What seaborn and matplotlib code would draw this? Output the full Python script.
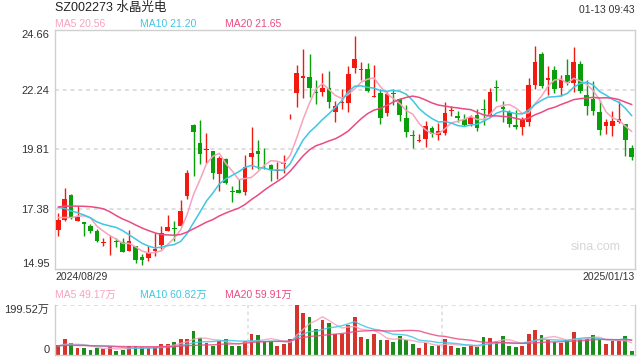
import matplotlib
matplotlib.use("Agg")
import matplotlib.pyplot as plt
import pandas as pd
import seaborn as sns

# --- data (price in CNY, volume in 万股) ---
title = "SZ002273 水晶光电"
stamp = "01-13 09:43"
start_label = "2024/08/29"
end_label = "2025/01/13"

opens = [16.53, 16.93, 17.94, 16.90, 16.84, 16.69, 16.49, 16.00, 16.15, 16.09,
         16.03, 15.70, 15.89, 15.45, 15.39, 15.68, 15.92, 16.49, 16.62, 16.69,
         17.92, 20.82, 20.08, 19.79, 19.76, 18.82, 19.40, 18.11, 18.16, 18.08,
         19.49, 19.76, 19.41, 19.17, 18.95, 19.21, 21.19, 22.12, 22.69, 22.75,
         22.12, 22.16, 22.31, 21.31, 21.68, 21.69, 23.11, 23.05, 23.07, 21.94,
         22.10, 21.29, 22.12, 21.86, 21.09, 20.40, 20.14, 20.24, 20.68, 20.41,
         20.48, 21.38, 21.18, 21.05, 20.86, 21.22, 21.43, 21.22, 22.32, 21.53,
         21.31, 20.82, 20.72, 20.91, 22.43, 23.69, 22.61, 23.04, 22.30, 22.84,
         22.50, 23.28, 22.03, 21.87, 21.31, 20.75, 20.78, 20.91, 20.86, 19.85]
highs = [17.22, 18.26, 17.98, 17.50, 16.85, 16.77, 16.57, 16.19, 16.34, 16.19,
         16.19, 16.54, 15.89, 15.56, 15.87, 16.43, 16.68, 17.13, 16.89, 17.75,
         18.99, 20.85, 21.02, 20.48, 19.76, 19.53, 19.47, 18.32, 18.59, 19.60,
         20.72, 20.21, 19.87, 19.23, 19.29, 19.59, 21.25, 23.24, 23.88, 23.69,
         22.64, 22.93, 22.99, 21.76, 22.26, 23.18, 24.42, 23.38, 23.31, 23.24,
         22.26, 22.16, 22.26, 21.90, 21.62, 20.61, 20.45, 20.95, 20.75, 20.89,
         21.72, 21.59, 21.35, 21.25, 21.22, 21.45, 21.86, 22.30, 22.64, 21.76,
         21.42, 21.42, 21.13, 22.71, 24.01, 23.78, 23.20, 23.20, 22.84, 23.47,
         23.98, 23.41, 22.61, 22.57, 21.80, 21.05, 21.35, 21.76, 20.86, 19.98]
lows = [16.30, 16.90, 16.98, 16.88, 16.30, 16.40, 16.04, 15.87, 15.52, 15.83,
        15.65, 15.70, 15.18, 15.11, 15.26, 15.49, 15.76, 16.49, 16.10, 16.69,
        17.78, 18.72, 19.20, 19.27, 18.62, 18.12, 18.39, 17.67, 18.05, 17.96,
        19.02, 19.00, 19.00, 18.52, 18.59, 18.83, 21.05, 21.53, 21.90, 21.92,
        21.67, 21.96, 21.49, 20.91, 21.45, 21.31, 22.91, 22.64, 22.16, 21.94,
        20.86, 21.15, 21.63, 20.98, 20.32, 19.87, 20.10, 19.91, 20.32, 20.21,
        20.41, 21.15, 20.92, 20.75, 20.75, 20.55, 20.82, 21.18, 21.79, 20.92,
        20.71, 20.65, 20.41, 20.75, 22.26, 22.30, 22.03, 22.10, 21.96, 22.43,
        22.16, 22.10, 21.19, 21.22, 20.41, 20.45, 20.37, 20.88, 19.56, 19.37]
closes = [16.93, 17.78, 17.01, 17.08, 16.76, 16.49, 16.10, 16.02, 16.17, 16.03,
          15.65, 16.07, 15.33, 15.33, 15.61, 15.76, 16.41, 16.65, 16.58, 17.31,
          18.86, 20.50, 19.63, 19.81, 18.86, 19.44, 18.46, 18.09, 18.05, 19.09,
          19.68, 19.61, 19.40, 18.98, 18.97, 19.27, 21.21, 22.91, 22.80, 22.29,
          22.10, 22.31, 21.72, 21.58, 21.70, 22.88, 23.47, 23.07, 22.19, 21.96,
          21.09, 22.06, 22.08, 21.19, 20.52, 20.37, 20.16, 20.78, 20.42, 20.55,
          21.29, 21.40, 21.09, 20.82, 21.13, 20.68, 21.41, 22.14, 22.30, 21.45,
          20.86, 20.71, 21.02, 22.43, 23.34, 22.37, 22.73, 22.27, 22.61, 22.50,
          23.38, 22.19, 21.59, 21.35, 20.61, 20.93, 20.98, 21.05, 20.21, 19.49]
volumes = [39, 63, 46, 29, 29, 20, 29, 23, 33, 17,
           20, 35, 35, 33, 27, 31, 43, 43, 52, 63,
           63, 94, 69, 46, 35, 55, 63, 35, 35, 56,
           82, 78, 55, 55, 35, 43, 63, 199.52, 169, 152,
           102, 141, 126, 85, 85, 121, 152, 72, 63, 82,
           59, 59, 52, 74, 59, 43, 29, 48, 35, 38,
           63, 35, 29, 33, 37, 33, 72, 68, 55, 74,
           35, 33, 35, 82, 98, 78, 59, 52, 48, 59,
           91, 63, 63, 78, 59, 43, 55, 55, 74, 16]

# sessions before the window, estimated from where the MA lines start
prior_closes = [17.10, 17.00, 17.10, 16.90, 16.80, 16.75, 17.10, 18.50, 19.20, 18.45,
                18.20, 18.00, 17.80, 17.70, 17.60, 17.78, 17.01, 16.80, 16.68]
prior_volumes = [38, 42, 35, 33, 40, 36, 31, 45, 39, 34,
                 37, 41, 36, 30, 38, 35, 40, 33, 37]

price_ticks = [14.95, 17.38, 19.81, 22.24, 24.66]
vol_top = 199.52
price_ma_text = ["MA5 20.56", "MA10 21.20", "MA20 21.65"]
vol_ma_text = ["MA5 49.17万", "MA10 60.82万", "MA20 59.91万"]

UP, DOWN = "#f01a10", "#0a9e0a"
MA_COLORS = ["#f6a3bd", "#3ec6e4", "#ec4a82"]
GRID, FRAME, TXT = "#dedede", "#cfcfcf", "#333333"

df = pd.DataFrame({"open": opens, "high": highs, "low": lows,
                   "close": closes, "volume": volumes})
df["idx"] = range(len(df))
df["dir"] = ["up" if c >= o else "down" for o, c in zip(opens, closes)]
colors = [UP if d == "up" else DOWN for d in df["dir"]]

all_close = pd.Series(prior_closes + closes)
all_vol = pd.Series(prior_volumes + volumes)
n0 = len(prior_closes)
for n in (5, 10, 20):
    df[f"ma{n}"] = all_close.rolling(n).mean().iloc[n0:].values
    df[f"vma{n}"] = all_vol.rolling(n).mean().iloc[n0:].values

sns.set_style("white")
plt.rcParams["font.family"] = ["Liberation Sans", "Noto Sans CJK SC"]

fig = plt.figure(figsize=(6.4, 3.6), dpi=100)
ax = fig.add_axes([55 / 640, 1 - 269 / 360, 580 / 640, 239 / 360])
axv = fig.add_axes([55 / 640, 5 / 360, 580 / 640, 50 / 360])

# price panel
for y in price_ticks[1:-1]:
    ax.axhline(y, color=GRID, ls=(0, (2, 2)), lw=1.4, zorder=0)
ax.vlines(df["idx"], df["low"], df["high"], colors=colors, lw=1, zorder=2)
body_h = (df["close"] - df["open"]).abs().clip(lower=0.035)
body_b = df[["open", "close"]].min(axis=1)
ax.bar(df["idx"], body_h, bottom=body_b, width=0.72, color=colors, lw=0, zorder=3)
for n, c in zip((5, 10, 20), MA_COLORS):
    sns.lineplot(data=df, x="idx", y=f"ma{n}", color=c, lw=1.1, ax=ax, zorder=4)

ax.set_xlim(-0.5, len(df) - 0.5)
ax.set_ylim(price_ticks[0], price_ticks[-1])
ax.set_xticks([])
ax.set_yticks(price_ticks)
ax.set_yticklabels([f"{t:.2f}" for t in price_ticks], fontsize=8, color=TXT)
ax.get_yticklabels()[0].set_va("bottom")
ax.get_yticklabels()[-1].set_va("top")
ax.tick_params(length=0, pad=4)
ax.set_xlabel("")
ax.set_ylabel("")
for s in ax.spines.values():
    s.set_color(FRAME)
    s.set_linewidth(1)
ax.text(0.975, 0.09, "sina.com", transform=ax.transAxes, ha="right", va="center",
        fontsize=9, color="#d6d6d6")

# volume panel
axv.axhline(vol_top, color=GRID, ls=(0, (2, 2)), lw=1.4, zorder=0)
for xv in (len(df) / 3 - 0.5, 2 * len(df) / 3 - 0.5):
    axv.axvline(xv, color=GRID, ls=(0, (2, 2)), lw=1.2, zorder=0)
sns.barplot(data=df, x="idx", y="volume", hue="dir",
            palette={"up": UP, "down": DOWN}, dodge=False, native_scale=True,
            width=0.6, errorbar=None, legend=False, ax=axv, zorder=2,
            linewidth=0)
for n, c in zip((5, 10, 20), MA_COLORS):
    sns.lineplot(data=df, x="idx", y=f"vma{n}", color=c, lw=1.0, alpha=0.85,
                 ax=axv, zorder=4)
axv.set_xlim(-0.5, len(df) - 0.5)
axv.set_ylim(0, vol_top)
axv.set_xticks([])
axv.set_yticks([0, vol_top])
axv.set_yticklabels(["0", f"{vol_top:.2f}万"], fontsize=8, color=TXT)
axv.get_yticklabels()[0].set_va("bottom")
axv.get_yticklabels()[-1].set_va("top")
axv.tick_params(length=0, pad=4)
axv.set_xlabel("")
axv.set_ylabel("")
axv.spines["top"].set_visible(False)
for k in ("left", "right", "bottom"):
    axv.spines[k].set_color(FRAME)
    axv.spines[k].set_linewidth(1)

# header texts
fig.text(55 / 640, 1 - 8 / 360, title, fontsize=9, va="center", color="#222222")
fig.text(635 / 640, 1 - 10 / 360, stamp, fontsize=7.5, ha="right", va="center", color=TXT)
for x0, t, c in zip((55, 140, 225), price_ma_text, MA_COLORS):
    fig.text(x0 / 640, 1 - 24 / 360, t, fontsize=7.5, va="center", color=c)
fig.text(55 / 640, 1 - 277 / 360, start_label, fontsize=7.5, va="center", color=TXT)
fig.text(635 / 640, 1 - 277 / 360, end_label, fontsize=7.5, ha="right", va="center", color=TXT)
for x0, t, c in zip((55, 140, 225), vol_ma_text, MA_COLORS):
    fig.text(x0 / 640, 1 - 295 / 360, t, fontsize=7.5, va="center", color=c)

fig.savefig("out.png", dpi=100)
